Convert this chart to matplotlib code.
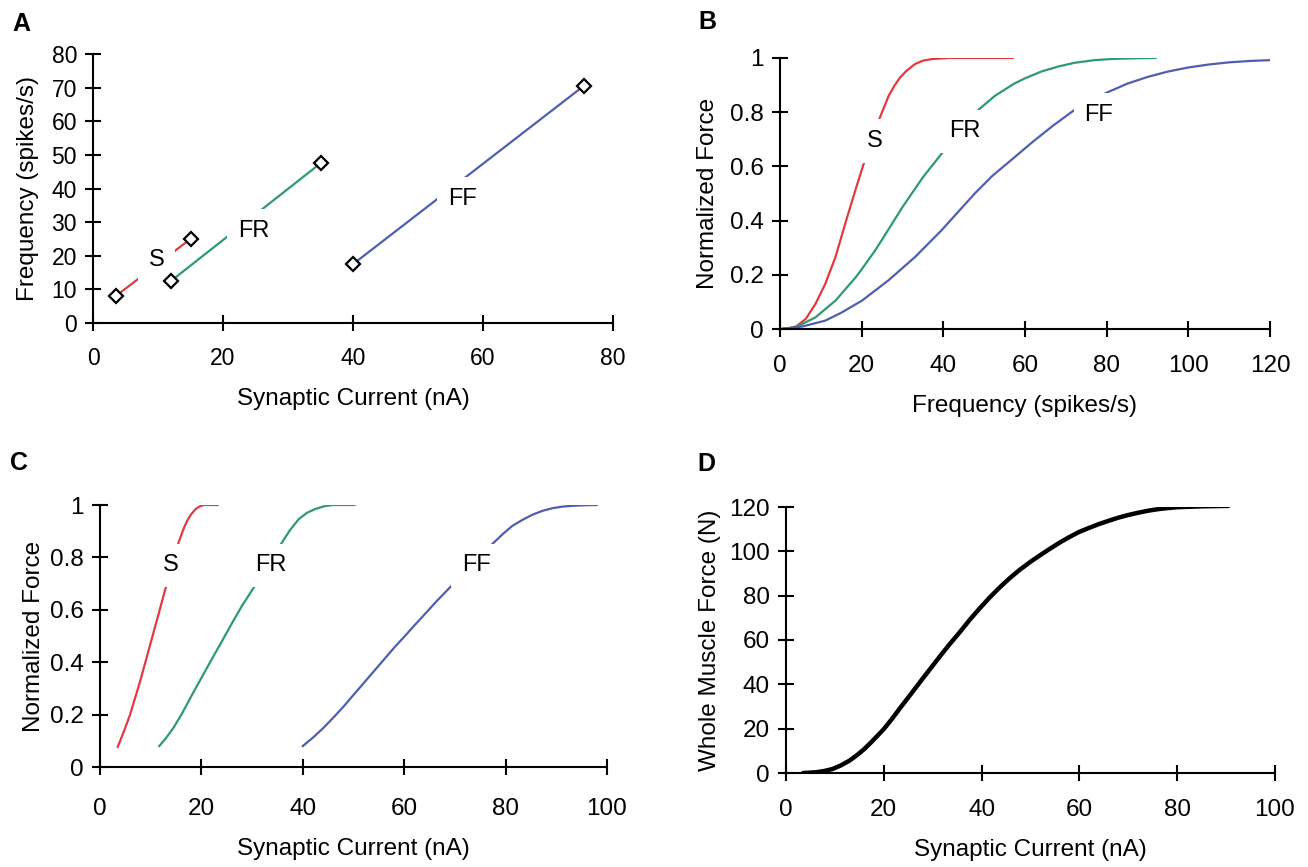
import matplotlib
matplotlib.use("Agg")
import matplotlib.pyplot as plt

plt.rcParams['font.family'] = ['Liberation Sans', 'DejaVu Sans']

# ---------------- data ----------------
RED = '#e23a3e'
GREEN = '#2e9a72'
BLUE = '#4e5fb2'

# Panel A: frequency vs synaptic current (endpoints)
a_s_current = [3.5, 15.0]
a_s_freq = [8.0, 25.0]
a_fr_current = [12.0, 35.0]
a_fr_freq = [12.5, 47.5]
a_ff_current = [40.0, 75.5]
a_ff_freq = [17.5, 70.5]

# Panel B: normalized force vs frequency
b_s_freq = [0, 2.2, 4, 6.3, 8.7, 11.1, 13.6, 16, 18.5, 20.5, 22.5, 24.3, 26.6, 28,
            29.4, 31, 33.1, 35, 37.2, 41.2, 57]
b_s_force = [0, 0.002, 0.01, 0.037, 0.093, 0.167, 0.266, 0.39, 0.514, 0.61, 0.70,
             0.774, 0.86, 0.897, 0.928, 0.953, 0.978, 0.99, 0.996, 1.0, 1.0]
b_fr_freq = [0, 3.8, 8.7, 13.6, 18.5, 20, 23.3, 25, 30, 35, 40, 44, 48.7, 52.6, 57.3,
             60, 64, 68, 72, 77, 82, 87, 92]
b_fr_force = [0, 0.006, 0.043, 0.105, 0.19, 0.22, 0.29, 0.33, 0.45, 0.56, 0.655,
              0.73, 0.81, 0.86, 0.905, 0.925, 0.95, 0.968, 0.982, 0.992, 0.997,
              0.999, 1.0]
b_ff_freq = [0, 5.4, 11.1, 15, 20.1, 26.6, 33.1, 39.6, 47.7, 52, 57.3, 62, 67, 72,
             76, 80, 85, 90, 95, 100, 105, 110, 115, 120]
b_ff_force = [0, 0.009, 0.031, 0.06, 0.105, 0.18, 0.266, 0.365, 0.50, 0.565, 0.632,
              0.692, 0.752, 0.807, 0.843, 0.872, 0.905, 0.93, 0.95, 0.965, 0.976,
              0.984, 0.989, 0.992]

# Panel C: normalized force vs synaptic current
c_s_current = [3.5, 4.7, 5.9, 7.9, 9.9, 11.5, 13.0, 14.3, 15.5, 16.4, 17.2, 18, 18.9,
               19.7, 20.5, 23.2]
c_s_force = [0.077, 0.135, 0.198, 0.326, 0.467, 0.58, 0.687, 0.78, 0.857, 0.905,
             0.94, 0.965, 0.985, 0.995, 1.0, 1.0]
c_fr_current = [11.7, 13, 14.5, 16.2, 18, 20, 22, 24, 26, 28, 30.4, 33, 35.9, 37.5,
                39.2, 40.8, 42.5, 44.2, 45.9, 50.2]
c_fr_force = [0.08, 0.11, 0.15, 0.205, 0.27, 0.34, 0.41, 0.478, 0.548, 0.615, 0.687,
              0.77, 0.857, 0.905, 0.946, 0.97, 0.985, 0.995, 1.0, 1.0]
c_ff_current = [40, 42, 44, 46, 48, 50, 52, 54, 56, 58, 60, 62, 64, 66.5, 69.1, 72,
                75, 77.7, 79.5, 81.3, 83.3, 85.3, 87.3, 89.3, 91.3, 93.3, 95.5, 98]
c_ff_force = [0.08, 0.112, 0.148, 0.188, 0.23, 0.275, 0.32, 0.365, 0.41, 0.455,
              0.497, 0.54, 0.582, 0.635, 0.687, 0.745, 0.805, 0.857, 0.89, 0.92,
              0.943, 0.963, 0.978, 0.988, 0.994, 0.997, 0.999, 1.0]

# Panel D: whole muscle force vs synaptic current
d_current = [3.5, 6, 7.8, 9.5, 11.2, 13, 14.6, 16, 17.3, 18.7, 20, 21.7, 23.4, 25.5,
             27.5, 29.5, 31.5, 33.5, 35.6, 37.6, 39.7, 41.7, 43.7, 45.7, 47.7, 50,
             52, 54, 56, 58, 60, 62, 64, 66, 68, 70, 72, 74, 76, 78, 80, 85, 90.5]
d_force = [0, 0.3, 0.9, 1.8, 3.4, 5.6, 8.2, 10.8, 13.6, 16.8, 19.8, 24.5, 29.5, 35.5,
           41.3, 47, 52.7, 58.2, 63.7, 69.2, 74.5, 79.3, 83.7, 87.8, 91.5, 95.3,
           98.3, 101.2, 104, 106.5, 108.8, 110.6, 112.3, 113.8, 115.2, 116.4, 117.4,
           118.3, 119, 119.5, 119.9, 120.3, 120.5]

# curve label positions (data coords)
a_labels = [('S', 9.8, 18.6), ('FR', 24.7, 27.5), ('FF', 56.8, 36.9)]
b_labels = [('S', 23.1, 0.694), ('FR', 45.3, 0.73), ('FF', 78.0, 0.79)]
c_labels = [('S', 13.9, 0.77), ('FR', 33.6, 0.77), ('FF', 74.2, 0.77)]

# ---------------- figure ----------------
W, H = 1308, 867
fig = plt.figure(figsize=(W / 100, H / 100), dpi=100)


def px_axes(x0, x1, ytop, ybot):
    return fig.add_axes([x0 / W, (H - ybot) / H, (x1 - x0) / W, (ybot - ytop) / H])


def style(ax, xlim, ylim, xticks, yticks, yticklabels=None, xpad=12, ypad=6,
          tfs=17.5):
    ax.set_xlim(*xlim)
    ax.set_ylim(*ylim)
    ax.set_xticks(xticks)
    ax.set_yticks(yticks)
    if yticklabels is not None:
        ax.set_yticklabels(yticklabels)
    for s in ['top', 'right']:
        ax.spines[s].set_visible(False)
    for s in ['left', 'bottom']:
        ax.spines[s].set_linewidth(1.5)
        ax.spines[s].set_color('black')
    ax.tick_params(axis='both', direction='inout', length=11, width=1.5,
                   labelsize=tfs, colors='black')
    ax.tick_params(axis='x', pad=xpad)
    ax.tick_params(axis='y', pad=ypad)
    ax.patch.set_visible(False)


def label(ax, txt, x, y, pad=0.45):
    ax.text(x, y, txt, fontsize=17, ha='center', va='center', zorder=5,
            bbox=dict(boxstyle='square,pad=%s' % pad, fc='white', ec='none'))


LABEL_FS = 17.5
YT = ['0', '0.2', '0.4', '0.6', '0.8', '1']

# Panel A
axA = px_axes(93, 613, 54, 323)
style(axA, (0, 80), (0, 80), [0, 20, 40, 60, 80], list(range(0, 81, 10)),
      xpad=12, tfs=16.5)
for xs, ys, c in [(a_s_current, a_s_freq, RED), (a_fr_current, a_fr_freq, GREEN),
                  (a_ff_current, a_ff_freq, BLUE)]:
    axA.plot(xs, ys, color=c, lw=1.6, zorder=2)
    axA.plot(xs, ys, ls='none', marker='D', ms=7.5, mfc='white', mec='black',
             mew=1.6, zorder=6, clip_on=False)
for t, x, y in a_labels:
    label(axA, t, x, y)
axA.set_xlabel('Synaptic Current (nA)', fontsize=LABEL_FS, labelpad=13)
axA.set_ylabel('Frequency (spikes/s)', fontsize=LABEL_FS, labelpad=9)

# Panel B
axB = px_axes(780, 1270, 58, 329)
style(axB, (0, 120), (0, 1), [0, 20, 40, 60, 80, 100, 120],
      [0, 0.2, 0.4, 0.6, 0.8, 1], YT, xpad=13)
axB.plot(b_s_freq, b_s_force, color=RED, lw=1.6, zorder=2)
axB.plot(b_fr_freq, b_fr_force, color=GREEN, lw=1.6, zorder=2)
axB.plot(b_ff_freq, b_ff_force, color=BLUE, lw=1.6, zorder=2)
for t, x, y in b_labels:
    label(axB, t, x, y)
axB.set_xlabel('Frequency (spikes/s)', fontsize=LABEL_FS, labelpad=13)
axB.set_ylabel('Normalized Force', fontsize=LABEL_FS, labelpad=8)

# Panel C
axC = px_axes(100, 607, 505, 767)
style(axC, (0, 100), (0, 1), [0, 20, 40, 60, 80, 100],
      [0, 0.2, 0.4, 0.6, 0.8, 1], YT, xpad=17)
axC.plot(c_s_current, c_s_force, color=RED, lw=1.6, zorder=2)
axC.plot(c_fr_current, c_fr_force, color=GREEN, lw=1.6, zorder=2)
axC.plot(c_ff_current, c_ff_force, color=BLUE, lw=1.6, zorder=2)
for t, x, y in c_labels:
    label(axC, t, x, y)
axC.set_xlabel('Synaptic Current (nA)', fontsize=LABEL_FS, labelpad=13)
axC.set_ylabel('Normalized Force', fontsize=LABEL_FS, labelpad=4)

# Panel D
axD = px_axes(786, 1275, 507, 773)
style(axD, (0, 100), (0, 120), [0, 20, 40, 60, 80, 100], list(range(0, 121, 20)),
      xpad=13)
axD.plot(d_current, d_force, color='black', lw=3.2, solid_capstyle='round',
         solid_joinstyle='round', zorder=2)
axD.set_xlabel('Synaptic Current (nA)', fontsize=LABEL_FS, labelpad=13)
axD.set_ylabel('Whole Muscle Force (N)', fontsize=LABEL_FS, labelpad=6)

# Panel letters
for letter, x, y in [('A', 21, 24), ('B', 707, 22), ('C', 19, 463), ('D', 706, 464)]:
    fig.text(x / W, 1 - y / H, letter, fontsize=18, fontweight='bold',
             ha='center', va='center')

fig.savefig('out.png', dpi=100)
